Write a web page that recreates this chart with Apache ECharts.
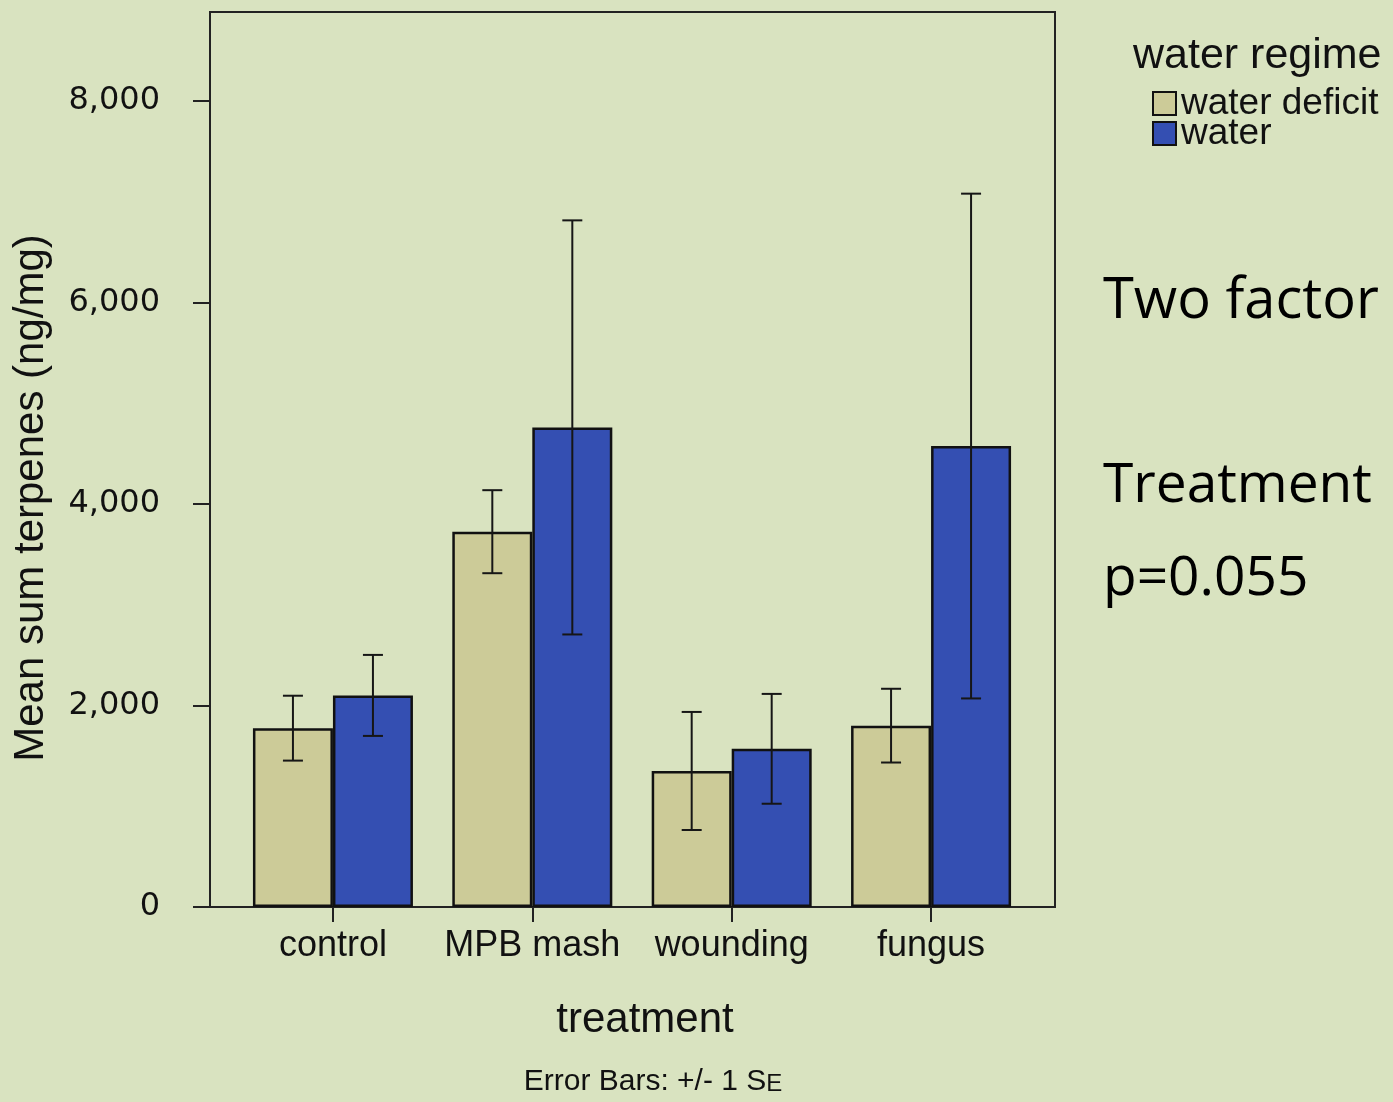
<!DOCTYPE html>
<html>
<head>
<meta charset="utf-8">
<script src="https://cdn.jsdelivr.net/npm/echarts@6/dist/echarts.min.js"></script>
<style>
  html, body { margin: 0; padding: 0; background: #d9e3c0; }
  #chart { width: 1393px; height: 1102px; }
</style>
</head>
<body>
<div id="chart"></div>
<script>
// Treatments along the x axis
const categories = ['control', 'MPB mash', 'wounding', 'fungus'];

// Mean sum terpenes (ng/mg) per treatment and water regime
const deficitMeans = [1775, 3725, 1350, 1800];
const waterMeans   = [2100, 4760, 1570, 4575];

// Standard errors (error bars show +/- 1 SE)
const deficitSE = [322, 412, 586, 366];
const waterSE   = [402, 2055, 545, 2505];

// Y axis tick labels
const yTicks = [0, 2000, 4000, 6000, 8000];

const seriesNames = ['water deficit', 'water'];
const COLORS = ['#cccb98', '#344fb2'];
const Y_MAX = 8883;
const BAR_W = 80;

function errData(means, se) {
  return means.map((m, i) => [i, m - se[i], m + se[i], m]);
}

function errRenderer(side) {
  return function (params, api) {
    const i = api.value(0);
    const lo = api.coord([i, api.value(1)]);
    const hi = api.coord([i, api.value(2)]);
    const x = lo[0] + side * BAR_W / 2;
    const cap = 10;
    const style = { stroke: '#161616', lineWidth: 2 };
    return {
      type: 'group',
      children: [
        { type: 'line', shape: { x1: x, y1: lo[1], x2: x, y2: hi[1] }, style },
        { type: 'line', shape: { x1: x - cap, y1: hi[1], x2: x + cap, y2: hi[1] }, style },
        { type: 'line', shape: { x1: x - cap, y1: lo[1], x2: x + cap, y2: lo[1] }, style }
      ]
    };
  };
}

const chart = echarts.init(document.getElementById('chart'), null, { renderer: 'canvas' });

const sans = '"Liberation Sans", Arial, sans-serif';
const noteFont = '"Open Sans", sans-serif';

chart.setOption({
  backgroundColor: '#d9e3c0',
  animation: false,
  grid: [
    // outer frame carrying the value axis
    { left: 210, top: 12, width: 845, height: 895, show: true,
      borderColor: '#222', borderWidth: 2, backgroundColor: 'transparent' },
    // bar area
    { left: 233.25, top: 12, width: 797.5, height: 895 }
  ],
  xAxis: [
    { type: 'value', gridIndex: 0, show: false, min: 0, max: 1 },
    {
      type: 'category', gridIndex: 1, data: categories,
      axisLine: { show: true, lineStyle: { color: '#222', width: 2 } },
      axisTick: { show: true, interval: 0, alignWithLabel: true, length: 15, lineStyle: { color: '#222', width: 2 } },
      axisLabel: { interval: 0, color: '#111', fontFamily: sans, fontSize: 36, margin: 21 }
    }
  ],
  yAxis: [
    {
      type: 'value', gridIndex: 0, min: 0, max: Y_MAX, interval: 2000,
      splitLine: { show: false },
      axisLine: { show: true, lineStyle: { color: '#222', width: 2 } },
      axisTick: { show: true, length: 17, customValues: yTicks, lineStyle: { color: '#222', width: 2 } },
      axisLabel: {
        customValues: yTicks, margin: 50, color: '#111',
        fontFamily: '"DejaVu Sans", sans-serif', fontSize: 32,
        formatter: v => v.toLocaleString('en-US')
      }
    },
    { type: 'value', gridIndex: 1, min: 0, max: Y_MAX, show: false }
  ],
  legend: {
    orient: 'vertical', left: 1152, top: 85, padding: 0,
    itemWidth: 23, itemHeight: 23, itemGap: -7,
    icon: 'rect',
    data: seriesNames,
    textStyle: { fontFamily: sans, fontSize: 37, color: '#111' }
  },
  series: [
    {
      name: seriesNames[0], type: 'bar', xAxisIndex: 1, yAxisIndex: 1,
      data: deficitMeans, barWidth: BAR_W, barGap: '0%',
      itemStyle: { color: COLORS[0], borderColor: '#111', borderWidth: 2.5 }
    },
    {
      name: seriesNames[1], type: 'bar', xAxisIndex: 1, yAxisIndex: 1,
      data: waterMeans, barWidth: BAR_W, barGap: '0%',
      itemStyle: { color: COLORS[1], borderColor: '#111', borderWidth: 2.5 }
    },
    {
      type: 'custom', xAxisIndex: 1, yAxisIndex: 1, z: 5,
      data: errData(deficitMeans, deficitSE), renderItem: errRenderer(-1)
    },
    {
      type: 'custom', xAxisIndex: 1, yAxisIndex: 1, z: 5,
      data: errData(waterMeans, waterSE), renderItem: errRenderer(1)
    }
  ],
  graphic: [
    {
      type: 'text', x: 31, y: 498, rotation: Math.PI / 2,
      style: { text: 'Mean sum terpenes (ng/mg)', fontFamily: sans, fontSize: 42,
               fill: '#111', align: 'center', verticalAlign: 'middle' }
    },
    {
      type: 'text', x: 645, y: 1020,
      style: { text: 'treatment', fontFamily: sans, fontSize: 42,
               fill: '#111', align: 'center', verticalAlign: 'middle' }
    },
    {
      type: 'text', x: 653, y: 1082,
      style: {
        text: 'Error Bars: +/- 1 S{sm|E}', fontFamily: sans, fontSize: 30,
        fill: '#111', align: 'center', verticalAlign: 'middle',
        rich: { sm: { fontFamily: sans, fontSize: 24, fill: '#111', padding: [4, 0, 0, 0] } }
      }
    },
    {
      type: 'text', x: 1133, y: 56,
      style: { text: 'water regime', fontFamily: sans, fontSize: 43,
               fill: '#111', align: 'left', verticalAlign: 'middle' }
    },
    {
      type: 'text', x: 1103, y: 302,
      style: { text: 'Two factor ANOVA', fontFamily: noteFont, fontSize: 56,
               fill: '#000', align: 'left', verticalAlign: 'middle' }
    },
    {
      type: 'text', x: 1103, y: 486,
      style: { text: 'Treatment', fontFamily: noteFont, fontSize: 55,
               fill: '#000', align: 'left', verticalAlign: 'middle' }
    },
    {
      type: 'text', x: 1103, y: 579,
      style: { text: 'p=0.055', fontFamily: noteFont, fontSize: 55,
               fill: '#000', align: 'left', verticalAlign: 'middle' }
    }
  ]
});
</script>
</body>
</html>
